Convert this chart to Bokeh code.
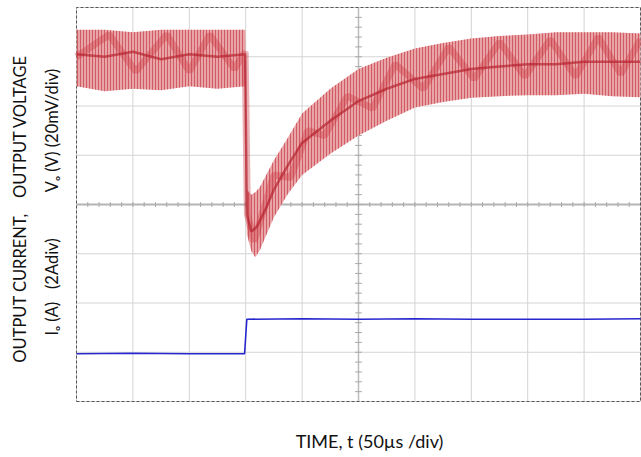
import numpy as np
from bokeh.plotting import figure
from bokeh.models import Label, ColumnDataSource
from bokeh.embed import file_html
from bokeh.resources import INLINE

# ---- data (screen divisions: x = 50 us/div, y = 20 mV/div or 2 A/div) ----
env_t = [0, 0.5, 1, 1.5, 2, 2.5, 2.99, 3.02, 3.1, 3.17, 3.25, 3.5, 3.75, 4.0,
         4.5, 5.0, 5.5, 6.0, 6.5, 7.0, 7.5, 8.0, 8.5, 9.0, 9.5, 10.0]
env_upper = [7.55, 7.55, 7.5, 7.55, 7.55, 7.55, 7.55, 4.3, 4.2, 4.25, 4.35, 4.9,
             5.36, 5.85, 6.35, 6.75, 6.98, 7.17, 7.28, 7.37, 7.42, 7.45, 7.5,
             7.5, 7.5, 7.47]
env_lower = [6.4, 6.3, 6.35, 6.32, 6.4, 6.35, 6.4, 3.4, 3.05, 2.93, 3.07, 3.74,
             4.22, 4.6, 5.03, 5.4, 5.7, 5.97, 6.08, 6.17, 6.2, 6.22, 6.22, 6.25,
             6.2, 6.18]

zig_t = [0, 0.58, 1.05, 1.6, 2.0, 2.36, 2.8, 2.99,
         3.03, 3.15, 3.5, 3.8, 4.1, 4.4, 4.8, 5.25, 5.65, 6.15, 6.6, 7.05, 7.5,
         7.95, 8.4, 8.85, 9.25, 9.65, 10.0]
zig_v = [7.0, 7.45, 6.7, 7.45, 6.7, 7.45, 6.75, 7.1,
         3.8, 3.25, 4.6, 4.55, 5.5, 5.4, 6.2, 5.95, 6.85, 6.35, 7.2, 6.55, 7.3,
         6.6, 7.35, 6.6, 7.4, 6.65, 7.35]

core_t = [0, 0.5, 1, 1.5, 2, 2.5, 2.99, 3.02, 3.1, 3.2, 3.35, 3.5, 3.75, 4.0,
          4.5, 5.0, 5.5, 6.0, 6.5, 7.0, 7.5, 8.0, 8.5, 9.0, 9.5, 10.0]
core_v = [7.05, 7.0, 7.1, 6.95, 7.05, 7.0, 7.05, 3.8, 3.45, 3.55, 3.9, 4.3,
          4.8, 5.25, 5.7, 6.1, 6.35, 6.55, 6.65, 6.75, 6.8, 6.85, 6.85, 6.9,
          6.9, 6.9]

cur_t = [0, 1.0, 2.0, 2.98, 3.02, 4.0, 5.0, 6.0, 7.0, 8.0, 9.0, 10.0]
cur_v = [0.97, 0.98, 0.97, 0.97, 1.67, 1.68, 1.67, 1.68, 1.67, 1.67, 1.67, 1.68]

x_divs = list(range(0, 11))
y_divs = list(range(0, 9))

FONT = "Lato"

# ---- page geometry (pixels) ----
W, H = 641, 457
X0, X1 = 76, 640      # screen x of division 0 and 10
YB, YT = 401, 7       # screen y of division 0 and 8
sx = (X1 - X0) / 10.0
sy = (YB - YT) / 8.0

p = figure(width=W, height=H,
           x_range=(-X0 / sx, (W - X0) / sx),
           y_range=(-(H - YB) / sy, 8 + YT / sy),
           output_backend="svg", toolbar_location=None,
           min_border=0)
p.axis.visible = False
p.grid.visible = False
p.outline_line_color = None
p.background_fill_color = "white"
p.border_fill_color = "white"

# graticule
p.segment(x0=x_divs, y0=[0] * len(x_divs), x1=x_divs, y1=[8] * len(x_divs),
          line_color="#d4d4d4", line_width=1)
p.segment(x0=[0] * len(y_divs), y0=y_divs, x1=[10] * len(y_divs), y1=y_divs,
          line_color="#d4d4d4", line_width=1)
p.line([0, 10], [4, 4], line_color="#b4b4b4", line_width=2)
p.line([5, 5], [0, 8], line_color="#bcbcbc", line_width=1.5)
mt_x = np.arange(0.2, 10, 0.2)
p.segment(x0=mt_x, y0=np.full(len(mt_x), 3.95), x1=mt_x,
          y1=np.full(len(mt_x), 4.05), line_color="#a8a8a8", line_width=1)
mt_y = np.arange(0.2, 8, 0.2)
p.segment(x0=np.full(len(mt_y), 4.94), y0=mt_y, x1=np.full(len(mt_y), 5.06),
          y1=mt_y, line_color="#a8a8a8", line_width=1)
# dashed screen border
p.line([0, 10, 10, 0, 0], [0, 0, 8, 8, 0], line_color="#555555",
       line_width=1, line_dash="3 2")

# output voltage ripple band
src = ColumnDataSource(dict(t=env_t, up=env_upper, lo=env_lower))
p.varea(x="t", y1="lo", y2="up", source=src, fill_color="#e9a4a7",
        fill_alpha=1.0, hatch_pattern="|", hatch_color="#c22a35",
        hatch_alpha=0.6, hatch_scale=3, hatch_weight=1)
p.line(zig_t, zig_v, line_color="#cc3e48", line_width=7, line_alpha=0.4)
p.line(core_t, core_v, line_color="#b21d2a", line_width=2.5, line_alpha=0.65)

# output current
p.line(cur_t, cur_v, line_color="#2727cf", line_width=1.6)

# labels
NB = "\u00a0"
lab_kw = dict(text_font=FONT, text_font_size="16.5px", text_color="#111111",
              text_align="center", text_baseline="middle")
p.add_layout(Label(x=5.195, y=-0.812, text="TIME, t (50\u00b5s /div)",
                   **dict(lab_kw, text_font_size="18px")))
p.add_layout(Label(x=-0.993, y=5.584, angle=np.pi / 2, text="OUTPUT VOLTAGE", **lab_kw))
p.add_layout(Label(x=-0.993, y=2.305, angle=np.pi / 2, text="OUTPUT CURRENT,", **lab_kw))
p.add_layout(Label(x=-0.431, y=5.503, angle=np.pi / 2,
                   text="V\u2092" + NB + "(V)" + NB + "(20mV/div)", **lab_kw))
p.add_layout(Label(x=-0.431, y=2.325, angle=np.pi / 2,
                   text="I\u2092" + NB + "(A)" + NB * 3 + "(2Adiv)", **lab_kw))

open("out.html", "w").write(file_html(p, INLINE))
